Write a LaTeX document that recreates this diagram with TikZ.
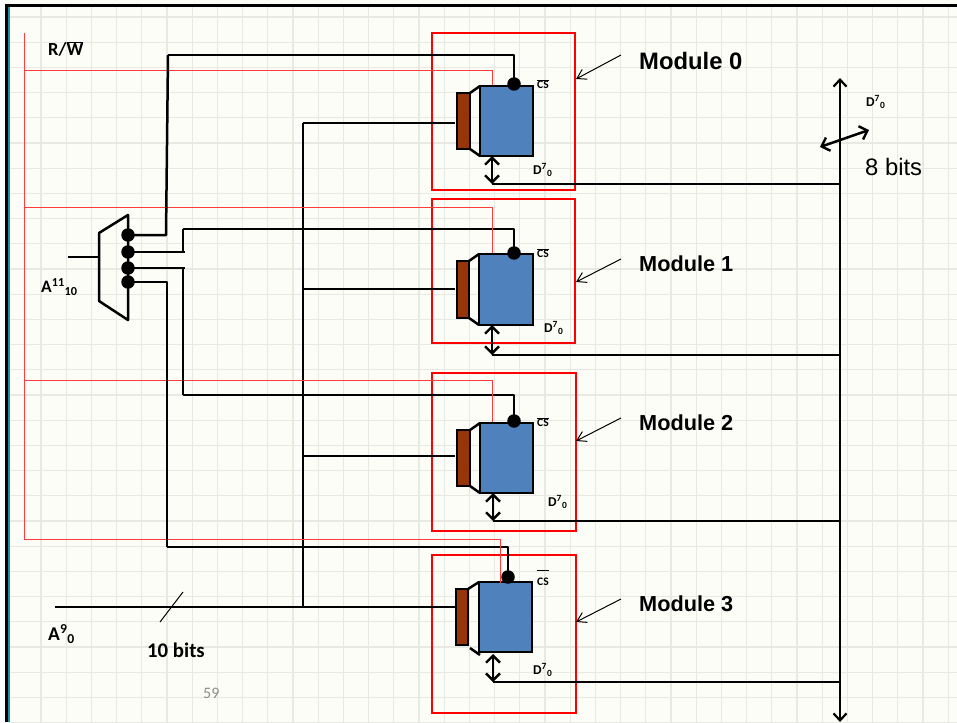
\documentclass[tikz,border=0pt]{standalone}
\usepackage{fontspec}
\setmainfont{Carlito}
\newfontfamily\arialf{Liberation Sans}
\usetikzlibrary{arrows.meta}
\definecolor{paper}{HTML}{FDFDF8}
\definecolor{gridc}{HTML}{E9E9E3}
\definecolor{blockblue}{HTML}{4F81BD}
\definecolor{brownblk}{HTML}{953509}
\definecolor{thinred}{HTML}{FF3C3C}
\definecolor{frameteal}{HTML}{1E8CA8}
\tikzset{
  wire/.style={draw=black,line width=2.5pt,line join=round},
  sigred/.style={draw=thinred,line width=1pt},
  modframe/.style={draw=red,line width=2.5pt},
  memblock/.style={rectangle,draw=black,line width=2.5pt,fill=blockblue,inner sep=0pt,outer sep=0pt,anchor=north west},
  decblock/.style={rectangle,draw=black,line width=2.5pt,fill=brownblk,inner sep=0pt,outer sep=0pt,anchor=north west},
  blackdot/.style={circle,fill=black,inner sep=0pt,minimum size=13.5pt},
  bidir/.style={draw=black,line width=2.5pt,{Straight Barb[length=7pt,width=14pt,line width=2.4pt]}-{Straight Barb[length=7pt,width=14pt,line width=2.4pt]}},
  pointer/.style={draw=black,line width=1pt,-{Straight Barb[length=9pt,width=11pt,line width=1pt]}},
  lab/.style={inner sep=0pt,font=\bfseries\fontsize{17.5}{19}\selectfont,anchor=west},
  tiny/.style={inner sep=0pt,font=\bfseries\fontsize{13.5}{15}\selectfont,anchor=west},
  mtitle/.style={inner sep=0pt,font=\arialf\bfseries\fontsize{21.7}{24}\selectfont,anchor=west}
}
\newcommand{\csbar}{$\overline{\mbox{\bfseries\fontsize{11.5}{13}\selectfont CS}}$}
\newcommand{\csbarhigh}{$\overline{\rule{0pt}{14pt}\mbox{\bfseries\fontsize{11.5}{13}\selectfont CS}}$}
\newcommand{\dsev}{D\textsuperscript{7}\textsubscript{0}}
\begin{document}
\begin{tikzpicture}[x=1pt,y=-1pt]
\useasboundingbox (0,0) rectangle (957,722);
\fill[paper] (0,0) rectangle (957,722);
% grid paper
\foreach \k in {0,...,36} \draw[gridc,line width=1.1pt] ({41+25.2*\k},7) -- ({41+25.2*\k},722);
\foreach \k in {0,...,28} \draw[gridc,line width=1.1pt] (8,{17+25.2*\k}) -- (957,{17+25.2*\k});
% sheet edge
\fill[white] (0,0) rectangle (5,722);
\fill[black] (5,4) rectangle (957,7.5);
\fill[black] (5,4) rectangle (8,722);
\fill[frameteal] (8,7.5) rectangle (9.5,722);

% data bus and address bus
\coordinate (dtop) at (840,78);
\coordinate (dbot) at (840,722);
\draw[wire,{Straight Barb[length=7pt,width=13pt,line width=2.2pt]}-{Straight Barb[length=7pt,width=13pt,line width=2.2pt]}] (dtop) -- (dbot);
\coordinate (abus0) at (303,123);
\coordinate (abus1) at (303,289);
\coordinate (abus2) at (303,456);
\coordinate (abus3) at (303,607);
\coordinate (ain) at (55,607);
\draw[wire] (ain) -- (abus3);
\draw[wire] (abus0) -- (abus3);

% red control signal
\coordinate (rtop) at (24,33);
\coordinate (r0) at (24,71);
\coordinate (r1) at (24,207);
\coordinate (r2) at (24,380);
\coordinate (r3) at (24,539);
\draw[sigred] (rtop) -- (r3);

\foreach \m/\fl/\ft/\fr/\fb/\bl/\bt/\br/\bb/\dl/\dt/\dr/\db/\ax/\at/\dy/\cx/\cy/\sy/\sx/\ay in {
 0/432/33/575/190/480/86/533/156/457/93/470/149/492/156/184/514/84/55/168/123,
 1/432/199/575/343/479/254/533/325/457/261/469/318/492/325/355/514/253/229/183/289,
 2/432/373/576/531/480/423/533/493/457/430/470/486/493/493/521/514/421/395/183/456,
 3/432/555/576/713/479/582/532/652/456/589/468/645/493/654/682/508/577/547/167/607}{
  \draw[modframe] (\fl,\ft) rectangle (\fr,\fb);
  % select line
  \coordinate (sel\m) at (\sx,\sy);
  \coordinate (selc\m) at (\cx,\sy);
  \coordinate (cst\m) at (\cx,\cy);
  \draw[wire] (sel\m) -- (selc\m) -- (cst\m);
  % decoder and memory block
  \node[decblock,minimum width={(\dr-\dl)*1pt},minimum height={(\db-\dt)*1pt}] (dec\m) at (\dl,\dt) {};
  \node[memblock,minimum width={(\br-\bl)*1pt},minimum height={(\bb-\bt)*1pt}] (mem\m) at (\bl,\bt) {};
  \node[blackdot] (cs\m) at (cst\m) {};
  % address line
  \coordinate (ae\m) at (455,\ay);
  \draw[wire] (abus\m) -- (ae\m);
  % data link
  \coordinate (lt\m) at (\ax,\at);
  \coordinate (lb\m) at (\ax,\dy);
  \coordinate (dj\m) at (840,\dy);
  \draw[bidir] (lt\m) -- (lb\m);
  \draw[wire] (lb\m) -- (dj\m);
}
% decoder flares
\draw[wire] (dec0.north east) -- (mem0.north west) (dec0.south east) -- (mem0.south west);
\draw[wire] (dec1.north east) -- (mem1.north west) (dec1.south east) -- (mem1.south west);
\draw[wire] (dec2.north east) -- (mem2.north west) (dec2.south east) -- (mem2.south west);
\draw[wire] (dec3.north east) -- (mem3.north west);
\draw[wire] (470,648) -- (480,655);
% red branches
\coordinate (rk0) at (492,71); \coordinate (rk1) at (492,207); \coordinate (rk2) at (492,380); \coordinate (rk3) at (500,539);
\coordinate (re0) at (492,85); \coordinate (re1) at (492,253); \coordinate (re2) at (492,422); \coordinate (re3) at (500,583);
\foreach \m in {0,1,2,3} \draw[sigred] (r\m) -- (rk\m) -- (re\m);

% selector
\coordinate (m1) at (99,233); \coordinate (m2) at (128,215); \coordinate (m3) at (128,320); \coordinate (m4) at (99,301);
\draw[wire] (m1) -- (m2) -- (m3) -- (m4) -- cycle;
\coordinate (minp) at (99,257);
\coordinate (mout) at (68,257);
\draw[wire] (mout) -- (minp);
\node[blackdot] (o0) at (128,235) {};
\node[blackdot] (o1) at (128,252) {};
\node[blackdot] (o2) at (128,268) {};
\node[blackdot] (o3) at (128,282) {};
\draw[wire] (o0.center) -- (166,235) -- (sel0);
\draw[wire] (o1.center) -- (185,252);
\draw[wire] (183,252) -- (sel1);
\draw[wire] (o2.center) -- (185,268);
\draw[wire] (183,268) -- (183,395) -- (sel2);
\draw[wire] (o3.center) -- (167,282) -- (sel3);

% module titles and pointers
\node[mtitle,font=\arialf\bfseries\fontsize{23.8}{26}\selectfont] (t0) at (639,61) {Module 0};
\node[mtitle] (t1) at (639,264) {Module 1};
\node[mtitle] (t2) at (639,423) {Module 2};
\node[mtitle] (t3) at (639,604) {Module 3};
\coordinate (p0) at (621,55); \coordinate (q0) at (576,79);
\coordinate (p1) at (621,259); \coordinate (q1) at (576,282);
\coordinate (p2) at (621,418); \coordinate (q2) at (576,441);
\coordinate (p3) at (621,599); \coordinate (q3) at (576,622);
\foreach \m in {0,1,2,3} \draw[pointer] (p\m) -- (q\m);

% small labels
\node[tiny] (cl0) at (537,84) {\csbar};
\node[tiny] (cl1) at (537,253) {\csbar};
\node[tiny] (cl2) at (537,422) {\csbar};
\node[tiny,anchor=south west] (cl3) at (537,586) {\csbarhigh};
\node[tiny] (dl0) at (533,170) {\dsev};
\node[tiny] (dl1) at (544,328) {\dsev};
\node[tiny] (dl2) at (548,502) {\dsev};
\node[tiny] (dl3) at (533,670) {\dsev};
\node[tiny] (dl4) at (866,102) {\dsev};
% bus width marks
\coordinate (w1) at (820,147); \coordinate (w2) at (869,130);
\draw[bidir] (w1) -- (w2);
\node[inner sep=0pt,anchor=west,font=\arialf\fontsize{23.8}{25}\selectfont] (eightbits) at (865,167) {8 bits};
\coordinate (tk1) at (183,592); \coordinate (tk2) at (160,622);
\draw[black,line width=1pt] (tk1) -- (tk2);
% signal names
\node[lab,font=\bfseries\fontsize{18.5}{20}\selectfont] (rw) at (48,49) {R/$\overline{\mbox{\bfseries\fontsize{18.5}{20}\selectfont W}}$};
\node[lab] (ahi) at (41,287) {A\textsuperscript{11}\textsubscript{10}};
\node[lab,font=\bfseries\fontsize{19.5}{21}\selectfont] (alo) at (48,634) {A\textsuperscript{9}\textsubscript{0}};
\node[lab,font=\bfseries\fontsize{20.8}{23}\selectfont] (tenbits) at (147,650) {10 bits};
\node[inner sep=0pt,anchor=west,text=black!45,font=\fontsize{16}{18}\selectfont] (pg) at (203,693) {59};
\end{tikzpicture}
\end{document}
